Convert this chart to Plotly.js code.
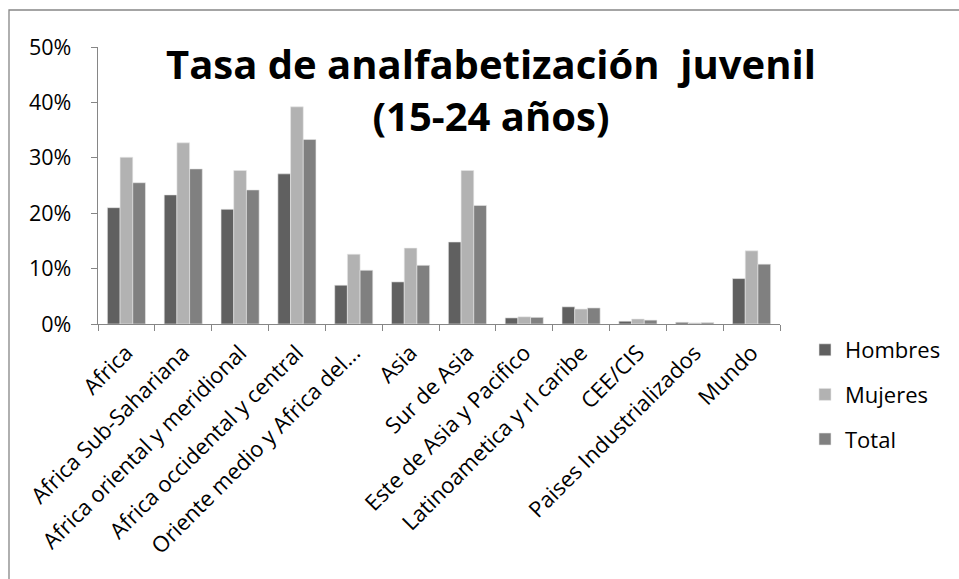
<!DOCTYPE html>
<html>
<head>
<meta charset="utf-8">
<script src="https://cdn.plot.ly/plotly-3.0.1.min.js"></script>
<style>body{margin:0;padding:0;background:#fff;} #chart{width:959px;height:579px;}</style>
</head>
<body>
<div id="chart"></div>
<script>
const categories = ["Africa", "Africa Sub-Sahariana", "Africa oriental y meridional", "Africa occidental y central", "Oriente medio y Africa del...", "Asia", "Sur de Asia", "Este de Asia y Pacifico", "Latinoametica y rl caribe", "CEE/CIS", "Paises Industrializados", "Mundo"];
const hombres = [0.210, 0.233, 0.207, 0.271, 0.070, 0.076, 0.148, 0.011, 0.031, 0.005, 0.003, 0.082];
const mujeres = [0.301, 0.327, 0.277, 0.392, 0.126, 0.137, 0.277, 0.013, 0.027, 0.009, 0.002, 0.132];
const total   = [0.255, 0.280, 0.242, 0.333, 0.097, 0.106, 0.214, 0.012, 0.029, 0.007, 0.0025, 0.108];
const seriesNames = ["Hombres", "Mujeres", "Total"];
const yTicks = [0, 0.1, 0.2, 0.3, 0.4, 0.5];
const yTickLabels = ["0%", "10%", "20%", "30%", "40%", "50%"];

const colors = ["#606060", "#b2b2b2", "#808080"];
const data = [hombres, mujeres, total].map((vals, i) => ({
  type: "bar",
  name: seriesNames[i],
  x: categories,
  y: vals,
  legendgroup: "g" + i,
  marker: {color: colors[i], line: {color: "#e8e8e8", width: 0.6}},
  hoverinfo: "x+y+name"
}));

const font = "'Open Sans', sans-serif";
const L = 98, T = 47, PW = 682, PH = 277;
const layout = {
  width: 959, height: 579,
  margin: {l: L, r: 959 - L - PW, t: T, b: 579 - T - PH},
  paper_bgcolor: "#ffffff", plot_bgcolor: "#ffffff",
  font: {family: font, size: 19, color: "#000000"},
  barmode: "group",
  bargap: 0.33, bargroupgap: 0,
  showlegend: true,
  title: {
    text: "<b>Tasa de analfabetización  juvenil<br>(15-24 años)</b>",
    font: {family: font, size: 40, color: "#000000"},
    x: 491/959, xanchor: "center", y: 1 - 79/579, yanchor: "top",
    yref: "container", xref: "container"
  },
  xaxis: {
    type: "category",
    tickangle: -45,
    showline: true, linecolor: "#868686", linewidth: 1.3,
    ticks: "outside", ticklen: 6, tickcolor: "#868686", tickson: "boundaries",
    ticklabelstandoff: 6,
    showgrid: false, zeroline: false,
    tickfont: {family: font, size: 22, color: "#000"},
    automargin: false
  },
  yaxis: {
    range: [0, 0.5],
    tickvals: yTicks, ticktext: yTickLabels,
    showline: true, linecolor: "#868686", linewidth: 1.3,
    ticks: "outside", ticklen: 6, tickcolor: "#868686",
    ticklabelstandoff: 15,
    showgrid: false, zeroline: false,
    tickfont: {family: font, size: 21.5, color: "#000"},
    automargin: false
  },
  legend: {
    x: (805 - L) / PW, xanchor: "left", y: (T + PH - 329) / PH, yanchor: "top",
    font: {family: font, size: 22, color: "#000"},
    traceorder: "grouped", tracegroupgap: 13,
    itemwidth: 30, bgcolor: "rgba(0,0,0,0)"
  },
  shapes: [{
    type: "rect", xref: "paper", yref: "paper",
    x0: (9 - L) / PW, x1: (1050 - L) / PW, y0: (T + PH - 650) / PH, y1: (T + PH - 10) / PH,
    line: {color: "#868686", width: 1.3}
  }]
};
Plotly.newPlot("chart", data, layout, {displayModeBar: false, staticPlot: true});
</script>
</body>
</html>
